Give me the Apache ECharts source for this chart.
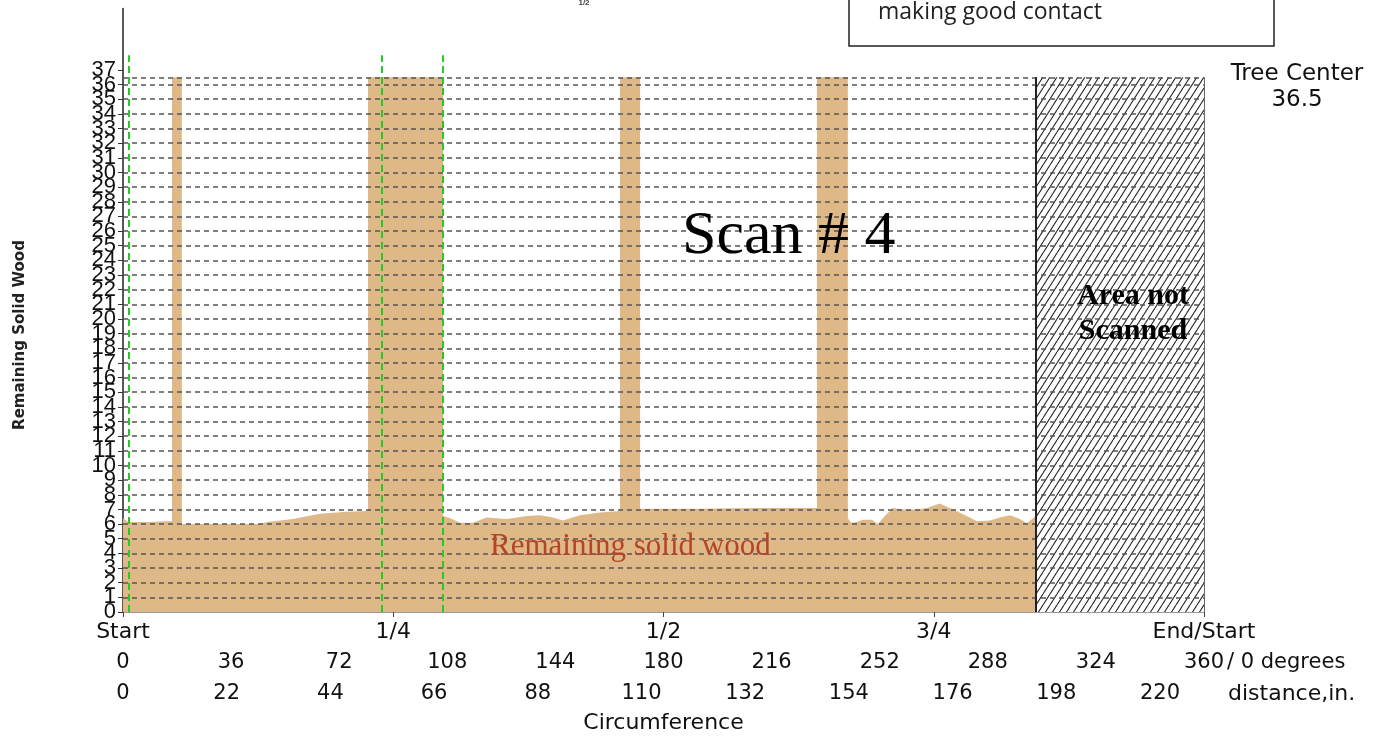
<!DOCTYPE html>
<html><head><meta charset="utf-8">
<script src="https://cdn.jsdelivr.net/npm/echarts@6/dist/echarts.min.js"></script>
<style>html,body{margin:0;padding:0;background:#fff}#c{width:1388px;height:742px}</style>
</head><body><div id="c"></div>
<script>
// ---- data ----
const profileDeg = [0, 1.7, 9, 14, 16.3, 16.3, 19.6, 19.6, 20.6, 45.6, 48, 56.6, 65.6, 74.6, 81.6, 81.6, 106.6, 106.6, 109, 112.2, 116.6, 121, 127.9, 134.5, 138.9, 143.2, 146.5, 152.2, 158.8, 165.5, 165.5, 172.2, 172.2, 192, 212, 231.1, 231.1, 241.4, 241.4, 242.5, 244.4, 246.4, 249.4, 251.4, 253.7, 256.4, 259.7, 264.4, 267.7, 272, 276.4, 281, 284.4, 288.7, 292, 295.4, 298.7, 301, 304];
const profileVal = [6.4, 6.15, 6.15, 6.2, 6.2, 36.5, 36.5, 6.0, 6.0, 6.0, 6.15, 6.35, 6.7, 6.85, 6.9, 36.5, 36.5, 6.55, 6.4, 6.1, 6.1, 6.45, 6.35, 6.55, 6.6, 6.45, 6.25, 6.6, 6.8, 6.9, 36.5, 36.5, 7.05, 7.05, 7.1, 7.1, 36.5, 36.5, 6.4, 6.1, 6.15, 6.3, 6.3, 6.0, 6.55, 7.1, 7.0, 7.0, 7.1, 7.4, 7.0, 6.55, 6.2, 6.25, 6.45, 6.6, 6.35, 6.05, 6.55];
const treeCenter = 36.5;
const scannedEndDeg = 304;
const circumferenceIn = 229.34;
const sensorLinesDeg = [2.0, 86.2, 106.6];
const sensorLineTop = 38;
const quarterLabels = ['Start', '1/4', '1/2', '3/4', 'End/Start'];
const degreeTicks = [0, 36, 72, 108, 144, 180, 216, 252, 288, 324, 360];
const distanceTicks = [0, 22, 44, 66, 88, 110, 132, 154, 176, 198, 220];
const yTicks = Array.from({length: 38}, (_, i) => i);
const gridValues = Array.from({length: 36}, (_, i) => i + 1).concat([treeCenter]);

// ---- chart ----
const yEven = yTicks.filter(v => v % 2 === 0);
const yOdd = yTicks.filter(v => v % 2 === 1);
function makeHatch() {
  const w = 7, h = 11;
  const c = document.createElement('canvas');
  c.width = w; c.height = h;
  const g = c.getContext('2d');
  g.fillStyle = '#fff'; g.fillRect(0, 0, w, h);
  g.strokeStyle = '#222'; g.lineWidth = 1.1;
  for (const dx of [-w, 0, w]) { g.beginPath(); g.moveTo(dx, h); g.lineTo(dx + w, 0); g.stroke(); }
  return c;
}
const chart = echarts.init(document.getElementById('c'));
const SANS = 'DejaVu Sans';
const yLabelStyle = {fontSize: 22, fontFamily: 'Liberation Sans', color: '#111', margin: 7, showMinLabel: true, showMaxLabel: true};
const option = {
  animation: false,
  backgroundColor: '#fff',
  grid: {left: 123, right: 184, top: 8.4, bottom: 130, containLabel: false, outerBoundsMode: 'none'},
  xAxis: [
    {type: 'value', position: 'bottom', min: 0, max: 360, interval: 90,
     axisLine: {onZero: false, lineStyle: {color: '#7a7a7a', width: 1.5}},
     axisTick: {show: true, length: 5, lineStyle: {color: '#444'}},
     axisLabel: {formatter: v => quarterLabels[Math.round(v / 90)], fontSize: 22, fontFamily: SANS, color: '#111', margin: 9,
       showMinLabel: true, showMaxLabel: true},
     splitLine: {show: false},
     name: 'Circumference', nameLocation: 'middle', nameGap: 100, nameMoveOverlap: false,
     nameTextStyle: {fontSize: 22, fontFamily: SANS, color: '#111'}},
    {type: 'value', position: 'bottom', min: 0, max: 360, interval: 36, offset: 51,
     axisLine: {show: false, onZero: false}, axisTick: {show: false}, splitLine: {show: false},
     axisLabel: {customValues: degreeTicks, fontSize: 21, fontFamily: SANS, color: '#111', margin: 0, verticalAlign: 'middle',
       showMinLabel: true, showMaxLabel: true},
     name: '/ 0 degrees', nameLocation: 'end', nameGap: 23, nameMoveOverlap: false,
     nameTextStyle: {fontSize: 21, fontFamily: SANS, color: '#111', verticalAlign: 'middle'}},
    {type: 'value', position: 'bottom', min: 0, max: circumferenceIn, interval: 22, offset: 82,
     axisLine: {show: false, onZero: false}, axisTick: {show: false}, splitLine: {show: false},
     axisLabel: {customValues: distanceTicks, formatter: v => distanceTicks.includes(v) ? String(v) : '',
       fontSize: 21, fontFamily: SANS, color: '#111', margin: 0, verticalAlign: 'middle', showMinLabel: true},
     name: 'distance,in.', nameLocation: 'end', nameGap: 24, nameMoveOverlap: false,
     nameTextStyle: {fontSize: 22, fontFamily: SANS, color: '#111', verticalAlign: 'middle'}}
  ],
  yAxis: [
    {type: 'value', position: 'left', min: 0, max: 41.2, interval: 1,
     axisLine: {show: true, onZero: false, lineStyle: {color: '#222', width: 1.5}},
     axisTick: {show: true, length: 5, customValues: yTicks, lineStyle: {color: '#333'}},
     axisLabel: Object.assign({customValues: yEven}, yLabelStyle),
     splitLine: {show: false}},
    {type: 'value', position: 'left', offset: 0, min: 0, max: 41.2, interval: 1,
     axisLine: {show: false, onZero: false}, axisTick: {show: false},
     axisLabel: Object.assign({customValues: yOdd}, yLabelStyle),
     splitLine: {show: false}}
  ],
  series: [
    {type: 'line', name: 'Remaining solid wood', symbol: 'none', z: 2,
     data: profileDeg.map((d, i) => [d, profileVal[i]]),
     lineStyle: {width: 0}, itemStyle: {color: '#deb887'},
     areaStyle: {color: '#deb887', opacity: 1},
     markArea: {silent: true, z: 1,
       itemStyle: {color: {image: makeHatch(), repeat: 'repeat'}, opacity: 1},
       data: [[{xAxis: scannedEndDeg, yAxis: 0}, {xAxis: 360, yAxis: treeCenter}]]}},
    {type: 'line', name: 'grid', data: [], z: 4,
     markLine: {silent: true, symbol: 'none', label: {show: false},
       lineStyle: {color: '#555', type: [5, 4], width: 1.5},
       data: gridValues.map(v => ({yAxis: v}))}},
    {type: 'line', name: 'borders', data: [], z: 5,
     markLine: {silent: true, symbol: 'none', label: {show: false},
       data: [
         [{coord: [scannedEndDeg, 0], lineStyle: {color: '#222', type: 'solid', width: 2}}, {coord: [scannedEndDeg, treeCenter]}],
         [{coord: [360, 0], lineStyle: {color: '#666', type: 'solid', width: 1}}, {coord: [360, treeCenter]}]
       ]}},
    {type: 'line', name: 'sensors', data: [], z: 6,
     markLine: {silent: true, symbol: 'none', label: {show: false},
       lineStyle: {color: '#22cc22', type: [7, 4], width: 2},
       data: sensorLinesDeg.map(d => [{coord: [d, 0]}, {coord: [d, sensorLineTop]}])}}
  ],
  graphic: [
    {type: 'text', x: 20, y: 335, rotation: Math.PI / 2,
     style: {text: 'Remaining Solid Wood', align: 'center', verticalAlign: 'middle', font: 'bold 15px "DejaVu Sans"', fill: '#222'}},
    {type: 'rect', shape: {x: 849, y: -10, width: 425, height: 56}, style: {fill: '#fff', stroke: '#222', lineWidth: 1.5}},
    {type: 'text', x: 878, y: 12, style: {text: 'making good contact', verticalAlign: 'middle', font: '23px "Open Sans"', fill: '#222'}},
    {type: 'text', x: 584, y: 3, style: {text: '1/2', align: 'center', verticalAlign: 'middle', font: 'bold 8px "Liberation Sans"', fill: '#444'}},
    {type: 'text', x: 682, y: 237, z: 10, style: {text: 'Scan # 4', verticalAlign: 'middle', font: '62px "Liberation Serif"', fill: '#000'}},
    {type: 'text', x: 490, y: 547, z: 10, style: {text: 'Remaining solid wood', verticalAlign: 'middle', font: '31px "Liberation Serif"', fill: '#b4452a'}},
    {type: 'text', x: 1133, y: 314, z: 10, style: {text: 'Area not\nScanned', align: 'center', verticalAlign: 'middle', lineHeight: 35, font: 'bold 30px "Liberation Serif"', fill: '#000'}},
    {type: 'text', x: 1297, y: 87, style: {text: 'Tree Center\n36.5', align: 'center', verticalAlign: 'middle', lineHeight: 26, font: '23px "DejaVu Sans"', fill: '#111'}}
  ]
};
chart.setOption(option);
</script></body></html>
